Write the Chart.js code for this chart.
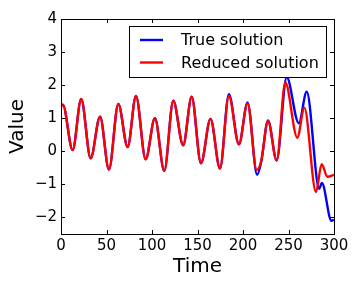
<!DOCTYPE html>
<html>
<head>
<meta charset="utf-8">
<script src="https://cdn.jsdelivr.net/npm/chart.js@4.4.1/dist/chart.umd.min.js"></script>
<style>
  html, body { margin: 0; padding: 0; background: #fff; }
  canvas { display: block; }
</style>
</head>
<body>
<canvas id="chart" width="360" height="288"></canvas>
<script>
// Values (turning points of each curve)
var trueTime = [0, 2, 12.8, 22.2, 32.6, 42.9, 52.7, 63, 73.2, 82.4, 93, 103.2, 113.5, 123.4, 134.2, 143.6, 153.8, 164.3, 174.7, 184.5, 195.5, 205,
  215.5, 220, 227.5, 237, 248, 261.3, 270, 283.8, 286.7, 297.2, 300];
var trueValue = [1.35, 1.41, 0.04, 1.58, -0.21, 1.05, -0.55, 1.43, 0.13, 1.67, -0.24, 1.0, -0.59, 1.53, 0.18, 1.65, -0.36, 0.98, -0.52, 1.73, 0.21, 1.48,
  -0.71, -0.32, 0.93, -0.27, 2.24, 0.85, 1.8, -1.13, -0.96, -2.1, -2.07];

var reducedTime = [0, 2, 12.8, 22.2, 32.6, 42.9, 52.7, 63, 73.2, 82.4, 93, 103.2, 113.5, 123.4, 134.2, 143.6, 153.8, 164.3, 174.7, 184.5, 195.5, 205,
  215, 220, 227.5, 237, 246.5, 259.7, 267.4, 280.2, 286.4, 292.8, 300];
var reducedValue = [1.35, 1.41, 0.04, 1.58, -0.21, 1.05, -0.55, 1.43, 0.13, 1.67, -0.24, 1.0, -0.59, 1.53, 0.18, 1.65, -0.36, 0.98, -0.52, 1.67, 0.21, 1.45,
  -0.56, -0.3, 0.92, -0.28, 2.08, 0.41, 1.32, -1.23, -0.39, -0.77, -0.71];

var xTicks = [0, 50, 100, 150, 200, 250, 300];
var yTicks = [-2, -1, 0, 1, 2, 3, 4];
var seriesNames = ['True solution', 'Reduced solution'];
var seriesColors = ['#0000ff', '#ff0000'];

var FONT = '"DejaVu Sans", sans-serif';

function toPoints(xs, ys) {
  return xs.map(function(x, i) { return { x: x, y: ys[i] }; });
}

function minusSign(v) {
  return String(v).replace('-', '\u2212');
}

// Frame with inward ticks on all four sides (matplotlib classic look)
var framePlugin = {
  id: 'frame',
  afterDatasetsDraw: function(chart) {
    var ctx = chart.ctx;
    var a = chart.chartArea;
    var xs = chart.scales.x;
    var ys = chart.scales.y;
    var len = 4;
    ctx.save();
    ctx.strokeStyle = '#000';
    ctx.lineWidth = 1;
    ctx.beginPath();
    xTicks.forEach(function(t) {
      var px = Math.round(xs.getPixelForValue(t)) + 0.5;
      ctx.moveTo(px, a.bottom); ctx.lineTo(px, a.bottom - len);
      ctx.moveTo(px, a.top); ctx.lineTo(px, a.top + len);
    });
    yTicks.forEach(function(t) {
      var py = Math.round(ys.getPixelForValue(t)) + 0.5;
      ctx.moveTo(a.left, py); ctx.lineTo(a.left + len, py);
      ctx.moveTo(a.right, py); ctx.lineTo(a.right - len, py);
    });
    ctx.stroke();
    ctx.strokeRect(Math.round(a.left) + 0.5, Math.round(a.top) + 0.5,
      Math.round(a.right - a.left), Math.round(a.bottom - a.top));
    ctx.restore();
  }
};

// Boxed legend in the upper right of the plot
var legendPlugin = {
  id: 'boxLegend',
  afterDraw: function(chart) {
    var ctx = chart.ctx;
    var left = 129.5, top = 26.5, right = 326.5, bottom = 77.5;
    ctx.save();
    ctx.fillStyle = '#fff';
    ctx.fillRect(left, top, right - left, bottom - top);
    ctx.strokeStyle = '#000';
    ctx.lineWidth = 1;
    ctx.strokeRect(left, top, right - left, bottom - top);
    ctx.font = '16px ' + FONT;
    ctx.textBaseline = 'middle';
    ctx.textAlign = 'left';
    var rows = [40, 62.5];
    seriesNames.forEach(function(name, i) {
      ctx.strokeStyle = seriesColors[i];
      ctx.lineWidth = 2.4;
      ctx.beginPath();
      ctx.moveTo(140, rows[i]);
      ctx.lineTo(163, rows[i]);
      ctx.stroke();
      ctx.fillStyle = '#000';
      ctx.fillText(name, 181, rows[i] + 1);
    });
    ctx.restore();
  }
};

var ctx = document.getElementById('chart').getContext('2d');
new Chart(ctx, {
  type: 'line',
  data: {
    datasets: [{
      label: seriesNames[0],
      data: toPoints(trueTime, trueValue),
      borderColor: seriesColors[0],
      borderWidth: 2.4,
      pointRadius: 0,
      cubicInterpolationMode: 'monotone',
      fill: false,
      order: 2
    }, {
      label: seriesNames[1],
      data: toPoints(reducedTime, reducedValue),
      borderColor: seriesColors[1],
      borderWidth: 2.4,
      pointRadius: 0,
      cubicInterpolationMode: 'monotone',
      fill: false,
      order: 1
    }]
  },
  options: {
    responsive: false,
    animation: false,
    devicePixelRatio: 1,
    layout: {
      padding: { top: 19, right: 26, left: 0, bottom: 0 }
    },
    plugins: {
      legend: { display: false },
      tooltip: { enabled: false }
    },
    scales: {
      x: {
        type: 'linear',
        min: 0,
        max: 300,
        afterBuildTicks: function(scale) {
          scale.ticks = xTicks.map(function(v) { return { value: v }; });
        },
        afterFit: function(scale) { scale.height = 54; },
        grid: { display: false, drawTicks: false },
        border: { display: false },
        ticks: {
          padding: 3,
          color: '#000',
          font: { family: FONT, size: 15 },
          maxRotation: 0,
          callback: minusSign
        },
        title: {
          display: true,
          text: 'Time',
          color: '#000',
          font: { family: FONT, size: 20 },
          padding: { top: 0, bottom: 9 }
        }
      },
      y: {
        type: 'linear',
        min: -2.5,
        max: 4,
        afterBuildTicks: function(scale) {
          scale.ticks = yTicks.map(function(v) { return { value: v }; });
        },
        afterFit: function(scale) { scale.width = 61; },
        grid: { display: false, drawTicks: false },
        border: { display: false },
        ticks: {
          padding: 4,
          color: '#000',
          font: { family: FONT, size: 15 },
          callback: minusSign
        },
        title: {
          display: true,
          text: 'Value',
          color: '#000',
          font: { family: FONT, size: 20 },
          padding: { top: 6, bottom: 0 }
        }
      }
    }
  },
  plugins: [framePlugin, legendPlugin]
});
</script>
</body>
</html>
